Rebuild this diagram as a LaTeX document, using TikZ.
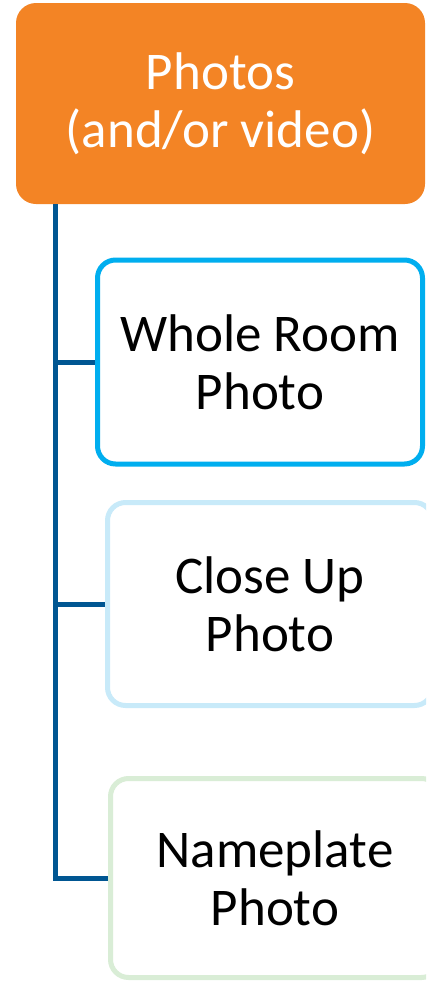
\documentclass[tikz,border=0pt]{standalone}
\usepackage{fontspec}
\setmainfont{Carlito}
\usepackage{xcolor}
\usetikzlibrary{positioning,calc}

\definecolor{photoorange}{RGB}{243,132,37}
\definecolor{trunkblue}{RGB}{0,86,146}
\definecolor{roomcyan}{RGB}{0,174,239}
\definecolor{closeblue}{RGB}{200,234,249}
\definecolor{plategreen}{RGB}{217,237,214}

\begin{document}
\begin{tikzpicture}[x=1pt, y=1pt,
    bigtext/.style={font=\fontsize{53}{58}\selectfont, align=center},
    headbox/.style={rectangle, rounded corners=20pt, fill=photoorange, text=white, bigtext, minimum width=409pt, minimum height=201pt},
    itembox/.style={rectangle, rounded corners=18pt, draw, line width=5pt, fill=white, bigtext, minimum height=204pt},
    trunk/.style={draw=trunkblue, line width=5pt}]
    \useasboundingbox (0,0) rectangle (426,-983);
    \clip (0,0) rectangle (426,-983);

    \node (photos) [headbox] at (220.5,-103.5) {Photos\\(and/or video)};
    \node (room) [itembox, draw=roomcyan, minimum width=325pt] at (260,-362) {Whole Room\\Photo};
    \node (close) [itembox, draw=closeblue, minimum width=325pt, minimum height=203pt] at (270,-604) {Close Up\\Photo};
    \node (plate) [itembox, draw=plategreen, minimum width=329pt, minimum height=199pt] at (275,-878) {Nameplate\\Photo};

    \coordinate (spine) at (55,-204);
    \draw [trunk] (spine) |- (plate.west);
    \draw [trunk] (spine |- room.west) -- (room.west);
    \draw [trunk] (spine |- close.west) -- (close.west);
\end{tikzpicture}
\end{document}
